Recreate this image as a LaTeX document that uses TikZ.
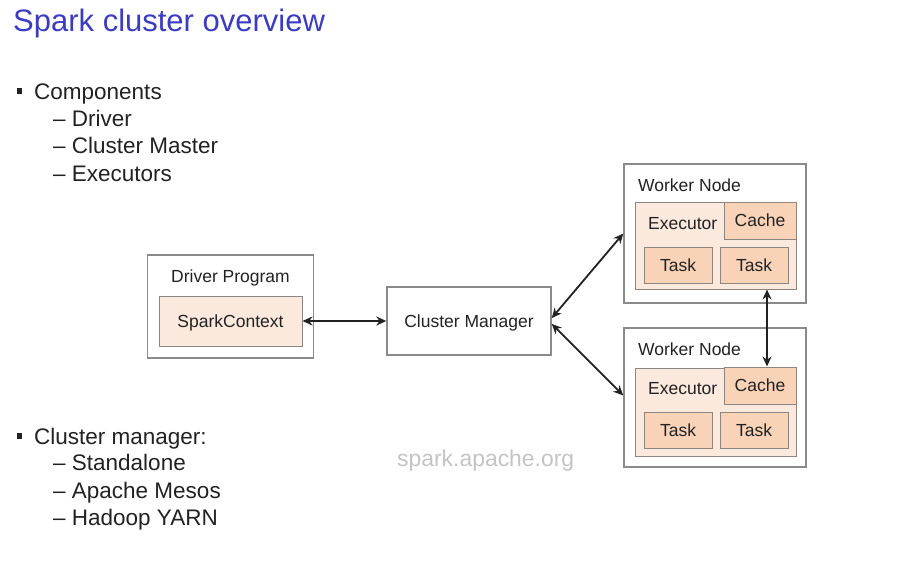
\documentclass[tikz,border=0pt]{standalone}
\usepackage{fontspec}
\setmainfont{Liberation Sans}
\usetikzlibrary{arrows.meta}
\definecolor{bordergray}{HTML}{8A8A8A}
\definecolor{exfill}{HTML}{FCE9DD}
\definecolor{taskfill}{HTML}{F9D3B7}
\definecolor{innerborder}{HTML}{8E8580}
\definecolor{titleblue}{HTML}{3B3BC4}
\definecolor{txt}{HTML}{222222}
\definecolor{watermark}{HTML}{C4C4C4}
\begin{document}
\begin{tikzpicture}[x=1pt,y=-1pt,
  boxfont/.style={font=\fontsize{17.5}{20}\selectfont, text=txt},
  outerbox/.style={draw=bordergray, line width=1.4pt, fill=white, inner sep=0pt, boxfont, text height=12.5pt, text depth=0pt},
  exbox/.style={draw=innerborder, line width=1pt, fill=exfill, inner sep=0pt, boxfont, text height=12.5pt, text depth=0pt},
  taskbox/.style={draw=innerborder, line width=1pt, fill=taskfill, inner sep=0pt, boxfont, text height=12.5pt, text depth=0pt},
  lbl/.style={inner sep=0pt, boxfont},
  listtext/.style={inner sep=0pt, anchor=base west, font=\fontsize{22.5}{26}\selectfont, text=txt},
  bulletsq/.style={fill=txt, inner sep=0pt, minimum width=5.5pt, minimum height=6pt},
  conn/.style={{Stealth[length=10pt,width=9pt]}-{Stealth[length=10pt,width=9pt]}, line width=1.8pt, draw=txt}
]
\useasboundingbox (0,0) rectangle (899,578);
\fill[white] (0,0) rectangle (899,578);

% title
\node[anchor=base west, inner sep=0pt, text=titleblue, font=\fontsize{31}{36}\selectfont] (title) at (13,32) {Spark cluster overview};

% lists
\node[bulletsq] (b1) at (19.5,91) {};
\node[listtext] (l1) at (34,99) {Components};
\node[listtext] (l2) at (53,126) {– Driver};
\node[listtext] (l3) at (53,153) {– Cluster Master};
\node[listtext] (l4) at (53,181) {– Executors};

\node[bulletsq] (b2) at (19.5,436) {};
\node[listtext] (l5) at (34,444) {Cluster manager:};
\node[listtext] (l6) at (53,470) {– Standalone};
\node[listtext] (l7) at (53,498) {– Apache Mesos};
\node[listtext] (l8) at (53,525) {– Hadoop YARN};

\node[anchor=base west, inner sep=0pt, text=watermark, font=\fontsize{22.9}{26}\selectfont] (wm) at (397,466) {spark.apache.org};

% driver
\node[outerbox, minimum width=166pt, minimum height=103pt] (drv) at (230.5,306.5) {};
\node[lbl, anchor=base] (drvl) at (230.5,282) {Driver Program};
\node[exbox, minimum width=143pt, minimum height=50pt] (sc) at (230.5,321) {SparkContext};

% cluster manager
\node[outerbox, minimum width=164pt, minimum height=68pt] (cm) at (469,321) {Cluster Manager};

% worker 1
\node[outerbox, minimum width=182pt, minimum height=139pt] (w1) at (715,233.5) {};
\node[lbl, anchor=base west] (w1l) at (638,191) {Worker Node};
\node[exbox, minimum width=161pt, minimum height=87pt] (ex1) at (715.5,245.5) {};
\node[lbl, anchor=base west] (ex1l) at (648,229) {Executor};
\node[taskbox, minimum width=72pt, minimum height=37pt] (c1) at (760,220.5) {Cache};
\node[taskbox, minimum width=68pt, minimum height=36pt] (t1a) at (678,265) {Task};
\node[taskbox, minimum width=68pt, minimum height=36pt] (t1b) at (754,265) {Task};

% worker 2
\node[outerbox, minimum width=182pt, minimum height=139pt] (w2) at (715,397.5) {};
\node[lbl, anchor=base west] (w2l) at (638,355) {Worker Node};
\node[exbox, minimum width=161pt, minimum height=88pt] (ex2) at (715.5,412) {};
\node[lbl, anchor=base west] (ex2l) at (648,394) {Executor};
\node[taskbox, minimum width=72pt, minimum height=37pt] (c2) at (760,385.5) {Cache};
\node[taskbox, minimum width=68pt, minimum height=36pt] (t2a) at (678,430) {Task};
\node[taskbox, minimum width=68pt, minimum height=36pt] (t2b) at (754,430) {Task};

% connectors
\draw[conn] (sc.east) -- (cm.west);
\draw[conn] (cm.2.5) -- (w1.west);
\draw[conn] (cm.-2.5) -- ([yshift=2pt]w2.west);
\draw[conn] ([xshift=7pt]c2.north |- ex1.south) -- ([xshift=7pt]c2.north);
\end{tikzpicture}
\end{document}
